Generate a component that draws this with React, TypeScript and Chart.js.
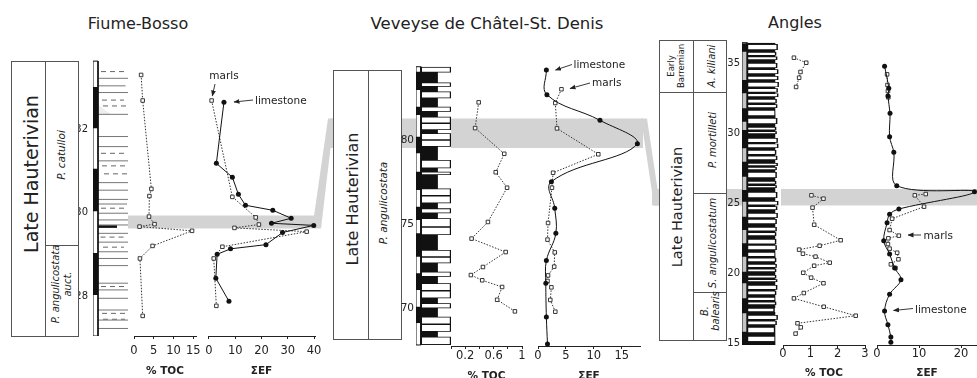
import React, { useEffect, useRef } from 'react';
import { Chart, registerables } from 'chart.js';

Chart.register(...registerables);

const FONT = "'DejaVu Sans', Verdana, sans-serif";
const INK = '#222';
const CH = 395;

// ================= Fiume-Bosso =================
const fbTocDepth = [33.29, 32.68, 30.57, 30.4, 29.91, 29.73, 29.67, 29.57, 29.21, 28.91, 27.54];
const fbTocValue = [1.8, 2.2, 4.4, 3.9, 3.8, 5.2, 1.4, 14.7, 4.7, 1.5, 2.2];
const fbMarlDepth = [32.68, 30.38, 29.89, 29.72, 29.64, 29.55, 29.19, 28.91, 27.78];
const fbMarlEF = [1.0, 8.9, 17.8, 19.0, 9.7, 37.2, 5.1, 1.8, 2.8];
const fbLimeDepth = [32.64, 31.18, 30.85, 30.44, 30.18, 30.06, 29.87, 29.75, 29.7, 29.53, 29.24, 29.14, 29.01, 28.44, 27.89];
const fbLimeEF = [5.7, 2.8, 8.9, 11.2, 13.9, 24.3, 31.3, 23.8, 39.9, 28.0, 21.7, 8.2, 3.1, 2.6, 7.6];
const fbColTop = 33.62;
const fbColBot = 27.06;
const fbStripTop = [33.0, 31.05, 29.04];
const fbStripBot = [32.02, 30.04, 28.04];
const fbLineDepth = [33.21, 33.03, 32.87, 32.35, 31.82, 31.58, 31.24, 30.72, 30.54, 30.32, 30.21, 29.99, 29.83, 29.71, 29.51, 29.3, 29.07, 28.91, 28.74, 28.32, 28.16, 27.96, 27.68, 27.44, 27.24];
const fbLineX0 = [0.2, 0, 0, 0, 0, 0, 0, 0, 0, 0, 0, 0, 0, 0, 0, 0, 0, 0, 0, 0, 0, 0, 0, 0, 0];
const fbLineX1 = [6, 5.5, 6, 6, 6.4, 6, 6.2, 6, 6, 6, 5.8, 6, 6, 6, 6.4, 6, 6, 6.4, 6, 6.5, 6.5, 6, 6, 6, 6];
const fbDashDepth = [33.37, 32.69, 32.55, 31.42, 31.12, 30.93, 30.11, 29.42, 29.18, 28.24, 27.6, 27.46];
const fbDashX0 = [0.6, 0.8, 1.0, 0.6, 0.8, 1.2, 0.6, 0.5, 1.0, 0.6, 0.8, 1.0];
const fbDashX1 = [5.6, 5.2, 5.6, 5.8, 5.4, 5.8, 5.5, 5.6, 5.2, 5.8, 5.6, 5.4];
const fbBlackDepth = [29.67];
const fbBlackX0 = [0];
const fbBlackX1 = [3.8];
const fbGreyTop = [32.33, 32.66];
const fbGreyBot = [32.05, 32.58];

// ================= Veveyse de Châtel-St. Denis =================
const vvTocDepth = [82.24, 80.71, 79.18, 78.08, 77.16, 75.12, 74.13, 73.33, 72.44, 71.96, 71.65, 71.25, 70.49, 69.8];
const vvTocValue = [0.39, 0.34, 0.75, 0.63, 0.79, 0.52, 0.29, 0.77, 0.45, 0.28, 0.44, 0.72, 0.65, 0.9];
const vvLimeDepth = [84.17, 82.7, 81.17, 79.78, 77.52, 75.93, 74.45, 72.82, 71.47, 69.46, 67.86];
const vvLimeEF = [1.5, 1.6, 11.1, 17.8, 2.4, 3.0, 3.2, 1.5, 1.4, 1.5, 1.7];
const vvMarlDepth = [83.02, 82.2, 80.69, 79.15, 78.05, 77.16, 75.06, 74.07, 73.31, 72.46, 71.94, 71.61, 71.23, 70.48, 69.78];
const vvMarlEF = [4.2, 3.1, 3.4, 10.8, 2.7, 2.5, 1.8, 1.7, 3.0, 2.9, 1.8, 1.7, 2.4, 2.2, 3.1];
const vvColTop = 84.36;
const vvColBot = 67.8;
const vvBedTop = [84.36, 83.42, 82.88, 81.98, 81.39, 81.0, 80.4, 80.0, 78.81, 78.11, 77.12, 76.68, 75.93, 75.34, 74.82, 73.45, 73.03, 72.16, 71.47, 71.02, 70.28, 69.48, 69.03, 68.29];
const vvBedBot = [84.01, 83.17, 82.48, 81.68, 81.0, 80.6, 80.0, 79.6, 78.32, 77.92, 76.68, 76.23, 75.64, 74.82, 74.35, 73.03, 72.66, 71.86, 71.02, 70.58, 69.98, 69.03, 68.59, 67.8];
const vvBedWidth = [6.2, 6.2, 6.2, 6.2, 6.2, 6.2, 6.2, 6.2, 6.2, 6.2, 6.2, 6.2, 6.2, 6.2, 6.2, 6.2, 6.2, 6.2, 6.2, 6.2, 6.2, 6.2, 6.2, 6.2];
const vvMarlWidth = 3.5;
const vvStripTop = [84.07, 81.98, 80.2, 78.11, 76.03, 74.45, 72.07, 70.08];
const vvStripBot = [82.98, 81.49, 79.21, 77.02, 75.24, 73.05, 71.07, 69.09];

// ================= Angles =================
const anTocDepth = [35.4, 35.04, 34.38, 33.97, 33.31, null, 25.57, 25.33, 24.69, 23.47, 22.36, 21.97, 21.69, 21.4, 21.19, 20.76, 20.54, 20.04, 19.69, 19.29, 18.59, 18.21, 17.61, 16.97, 16.43, 16.14, 15.69];
const anTocValue = [0.4, 0.85, 0.64, 0.59, 0.48, null, 1.04, 1.48, 1.08, 1.14, 2.11, 1.34, 0.59, 0.73, 1.19, 1.71, 1.14, 0.74, 1.03, 1.48, 0.76, 0.4, 1.49, 2.66, 0.53, 0.65, 0.46];
const anLimeDepth = [34.79, 33.21, 32.66, 31.43, 29.76, 28.64, 26.26, 25.83, 24.59, 24.21, 23.61, 22.33, 21.38, 20.38, 19.54, 18.5, 17.31, 16.33, 15.45, 15.07];
const anLimeEF = [1.8, 2.8, 2.6, 3.1, 3.0, 4.0, 4.7, 23.2, 5.2, 3.0, 2.4, 1.6, 3.0, 4.2, 5.7, 3.0, 1.8, 2.6, 3.3, 3.3];
const anMarlDepth = [34.21, 33.45, 33.02, 32.57, null, 25.66, 25.57, 24.76, 23.9, 23.09, 22.69, 22.5, 22.09, 21.76, 21.47, 21.0, 20.64, 20.38];
const anMarlEF = [2.4, 2.5, 2.6, 2.7, null, 11.6, 9.0, 11.2, 3.6, 3.0, 5.2, 2.7, 2.6, 3.0, 4.8, 5.1, 3.3, 4.4];
const anColTop = 36.47;
const anColBot = 14.88;
const anBedTop = [36.38, 35.81, 35.48, 35.02, 34.58, 34.09, 33.66, 33.22, 32.85, 32.45, 32.08, 31.66, 31.09, 30.45, 30.15, 29.66, 29.26, 28.81, 28.4, 27.88, 27.59, 27.24, 26.59, 26.29, 25.81, 25.16, 24.79, 24.31, 23.88, 23.31, 22.93, 22.45, 22.01, 21.52, 21.11, 20.66, 20.33, 19.88, 19.58, 19.16, 18.75, 18.31, 17.97, 17.52, 17.02, 16.61, 16.16, 15.52];
const anBedBot = [35.95, 35.55, 35.24, 34.66, 34.24, 33.81, 33.3, 32.92, 32.59, 32.15, 31.81, 31.24, 30.66, 30.22, 29.95, 29.33, 28.95, 28.47, 28.09, 27.66, 27.38, 26.81, 26.36, 26.09, 25.38, 24.86, 24.52, 23.95, 23.52, 23.0, 22.66, 22.08, 21.66, 21.18, 20.81, 20.4, 20.09, 19.65, 19.38, 18.82, 18.45, 18.04, 17.74, 17.24, 16.68, 16.31, 15.74, 15.09];
const anBedWidth = [5.9, 5.6, 5.8, 5.8, 6.0, 6.0, 6.1, 5.9, 6.0, 5.7, 5.8, 5.5, 5.8, 5.6, 5.7, 5.9, 6.0, 5.6, 5.8, 5.9, 5.7, 5.7, 5.6, 5.7, 5.8, 6.0, 5.8, 5.9, 5.7, 5.7, 5.6, 5.6, 5.7, 5.5, 5.6, 5.7, 5.6, 5.6, 5.8, 5.8, 5.6, 5.5, 5.6, 5.3, 5.9, 5.7, 5.4, 5.5];
const anMarlWidth = 5.4;
const anStripTop = [36.43, 33.81, 31.79, 30.24, 27.97, 25.95, 24.04, 22.14, 20.11, 18.21, 15.83];
const anStripBot = [35.83, 32.86, 30.83, 28.93, 26.9, 25.11, 23.09, 21.19, 19.29, 17.14, 14.88];

// ================= helpers =================
type Pt = { x: number | null; y: number | null };
const pts = (xs: (number | null)[], ys: (number | null)[]): Pt[] => xs.map((x, i) => ({ x, y: ys[i] }));

function hLines(d: number[], x0: number[], x1: number[]): Pt[] {
  const out: Pt[] = [];
  d.forEach((v, i) => { out.push({ x: x0[i], y: v }, { x: x1[i], y: v }, { x: null, y: null }); });
  return out;
}
function segFill(tops: number[], bots: number[], x0: number, x1: number): Pt[] {
  const out: Pt[] = [];
  tops.forEach((t, i) => { out.push({ x: x0, y: t }, { x: x1, y: t }, { x: x1, y: bots[i] }, { x: x0, y: bots[i] }); });
  return out;
}
function outline(x0: number, x1: number, top: number, bot: number): Pt[] {
  return [{ x: x0, y: top }, { x: x1, y: top }, { x: x1, y: bot }, { x: x0, y: bot }, { x: x0, y: top }];
}
function silhouette(top: number, bot: number, bt: number[], bb: number[], bw: number[], mw: number): Pt[] {
  const out: Pt[] = [];
  let cur = top;
  bt.forEach((t, i) => {
    if (t < cur) out.push({ x: mw, y: cur }, { x: mw, y: t });
    out.push({ x: bw[i], y: t }, { x: bw[i], y: bb[i] });
    cur = bb[i];
  });
  if (cur > bot) out.push({ x: mw, y: cur }, { x: mw, y: bot });
  return out;
}
function whiteBeds(bt: number[], bb: number[], bw: number[], base: number, inset: number, dx: number): Pt[] {
  const out: Pt[] = [];
  bt.forEach((t, i) => {
    out.push({ x: base, y: t - inset }, { x: bw[i] - dx, y: t - inset }, { x: bw[i] - dx, y: bb[i] + inset }, { x: base, y: bb[i] + inset });
  });
  return out;
}

const fillDs = (data: Pt[], color: string, base: number, order: number) => ({
  data, borderWidth: 0, borderColor: 'transparent', backgroundColor: color, fill: { value: base },
  pointRadius: 0, tension: 0, order, spanGaps: false,
});
const strokeDs = (data: Pt[], color: string, width: number, order: number, dash: number[] = []) => ({
  data, borderWidth: width, borderColor: color, borderDash: dash, fill: false, pointRadius: 0, tension: 0, order, spanGaps: false,
});
const dotted = (data: Pt[]) => ({
  data, borderColor: '#333', borderWidth: 1, borderDash: [1.5, 1.5], pointStyle: 'rect', pointRadius: 2.5,
  pointBackgroundColor: '#fff', pointBorderColor: '#222', pointBorderWidth: 0.9, tension: 0, fill: false, clip: false, spanGaps: false, order: 2,
});
const solid = (data: Pt[], tension: number) => ({
  data, borderColor: '#111', borderWidth: 1, pointStyle: 'circle', pointRadius: 2.5, pointBackgroundColor: '#111',
  pointBorderColor: '#111', pointBorderWidth: 0, tension, fill: false, clip: false, spanGaps: false, order: 1,
});

type XAxis = { step: number; title: string; tickPad: number; titleCenter: number; show?: (v: number) => boolean };
type YAxis = { step: number; width: number; pad: number; size: number };
type PlotSpec = {
  left: number; right: number; top: number; bottom: number;
  xMin: number; xMax: number; yMin: number; yMax: number;
  datasets: any[]; xAxis?: XAxis; yAxis?: YAxis; vertical?: boolean;
};

function ChartPlot({ p }: { p: PlotSpec }) {
  const ref = useRef<HTMLCanvasElement>(null);
  const padL = p.yAxis ? 0 : 22;
  const padR = p.yAxis ? 2 : 22;
  const yW = p.yAxis ? p.yAxis.width : 0;
  const cLeft = p.left - padL - yW;
  const cW = Math.round(p.right - p.left + padL + padR + yW);
  useEffect(() => {
    const canvas = ref.current;
    if (!canvas) return;
    const xa = p.xAxis;
    const ya = p.yAxis;
    const tickFont = { family: FONT, size: 11.5, lineHeight: 1 };
    const chart = new Chart(canvas, {
      type: 'line',
      data: { datasets: p.datasets },
      options: {
        animation: false,
        responsive: false,
        maintainAspectRatio: false,
        devicePixelRatio: 1,
        events: [],
        indexAxis: p.vertical ? 'y' : 'x',
        layout: { padding: { left: padL, right: padR, top: p.top, bottom: xa ? 0 : CH - p.bottom } },
        plugins: { legend: { display: false }, tooltip: { enabled: false } },
        scales: {
          x: xa
            ? {
                type: 'linear', position: 'bottom', min: p.xMin, max: p.xMax, display: true,
                afterFit: (s: any) => { s.height = CH - p.bottom; },
                grid: { display: true, drawOnChartArea: false, drawTicks: true, tickLength: 3, color: INK, lineWidth: 1 },
                border: { display: true, color: INK, width: 1 },
                ticks: {
                  stepSize: xa.step, includeBounds: false, padding: xa.tickPad, color: INK, font: tickFont,
                  autoSkip: false, maxRotation: 0,
                  callback: (v: any) => (xa.show && !xa.show(Number(v)) ? '' : String(Math.round(Number(v) * 10) / 10)),
                },
                title: {
                  display: true, text: xa.title, color: INK,
                  font: { family: FONT, size: 10.5, weight: 'bold', lineHeight: 1.2 },
                  padding: { top: 0, bottom: CH - xa.titleCenter - 6.3 },
                },
              }
            : { type: 'linear', min: p.xMin, max: p.xMax, display: false },
          y: ya
            ? {
                type: 'linear', position: 'left', min: p.yMin, max: p.yMax, display: true,
                afterFit: (s: any) => { s.width = ya.width; },
                grid: { display: false, drawTicks: false },
                border: { display: false },
                ticks: { stepSize: ya.step, includeBounds: false, padding: ya.pad, color: INK, font: { family: FONT, size: ya.size }, autoSkip: false },
              }
            : { type: 'linear', min: p.yMin, max: p.yMax, display: false },
        },
      } as any,
    });
    return () => chart.destroy();
  }, []);
  return <canvas ref={ref} width={cW} height={CH} style={{ position: 'absolute', left: cLeft, top: 0, width: cW, height: CH, zIndex: 3 }} />;
}

function Box({ x, y, w, h }: { x: number; y: number; w: number; h: number }) {
  return <div style={{ position: 'absolute', left: x, top: y, width: w, height: h, border: '1px solid #555', background: '#fff', boxSizing: 'border-box', zIndex: 2 }} />;
}
function VLine({ x, y1, y2 }: { x: number; y1: number; y2: number }) {
  return <div style={{ position: 'absolute', left: x, top: y1, width: 0, height: y2 - y1, borderLeft: '1px solid #555', zIndex: 2 }} />;
}
function HLine({ y, x1, x2 }: { y: number; x1: number; x2: number }) {
  return <div style={{ position: 'absolute', left: x1, top: y, width: x2 - x1, height: 0, borderTop: '1px solid #555', zIndex: 2 }} />;
}
function VText({ cx, cy, text, size, italic, lh }: { cx: number; cy: number; text: string; size: number; italic?: boolean; lh?: number }) {
  return (
    <div style={{
      position: 'absolute', left: cx, top: cy, transform: 'translate(-50%, -50%) rotate(-90deg)', whiteSpace: 'pre',
      textAlign: 'center', fontSize: size, fontStyle: italic ? 'italic' : 'normal', lineHeight: `${lh ?? size * 1.1}px`,
      fontFamily: FONT, color: INK, zIndex: 2,
    }}>{text}</div>
  );
}
function Title({ cx, cy, text, size }: { cx: number; cy: number; text: string; size: number }) {
  return (
    <div style={{ position: 'absolute', left: cx, top: cy, transform: 'translate(-50%, -50%)', whiteSpace: 'nowrap', fontSize: size, lineHeight: 1, fontFamily: FONT, color: INK }}>{text}</div>
  );
}

export default function App() {
  useEffect(() => { document.body.style.margin = '0'; }, []);

  const fbArea = { top: 55, bottom: 336, yMin: 27.06, yMax: 33.766 };
  const vvArea = { top: 57, bottom: 346, yMin: 67.738, yMax: 84.94 };
  const anArea = { top: 38, bottom: 345, yMin: 14.879, yMax: 36.807 };

  const plots: PlotSpec[] = [
    {
      left: 93, right: 128, ...fbArea, xMin: -1, xMax: 6, vertical: true,
      yAxis: { step: 2, width: 14, pad: 5, size: 10 },
      datasets: [
        strokeDs(outline(-1, 0, fbColTop, fbColBot), '#111', 1, 1),
        fillDs(segFill(fbStripTop, fbStripBot, -1, 0), '#111', -1, 2),
        strokeDs(hLines(fbBlackDepth, fbBlackX0, fbBlackX1), '#111', 2.5, 3),
        strokeDs(hLines(fbLineDepth, fbLineX0, fbLineX1), '#777', 1, 4),
        strokeDs(hLines(fbDashDepth, fbDashX0, fbDashX1), '#666', 1, 5, [5, 4]),
        fillDs(segFill(fbGreyTop, fbGreyBot, 0, 6), '#eeeeee', 0, 6),
      ],
    },
    {
      left: 134, right: 196, ...fbArea, xMin: 0, xMax: 15.7,
      xAxis: { step: 5, title: '% TOC', tickPad: 6, titleCenter: 371 },
      datasets: [dotted(pts(fbTocValue, fbTocDepth))],
    },
    {
      left: 208.3, right: 315, ...fbArea, xMin: -0.38, xMax: 40.38,
      xAxis: { step: 10, title: 'ΣEF', tickPad: 6, titleCenter: 371 },
      datasets: [solid(pts(fbLimeEF, fbLimeDepth), 0), dotted(pts(fbMarlEF, fbMarlDepth))],
    },
    {
      left: 416, right: 451.7, ...vvArea, xMin: -1, xMax: 6.4, vertical: true,
      yAxis: { step: 5, width: 16, pad: 2, size: 10.5 },
      datasets: [
        strokeDs(outline(-1, 0, vvColTop, vvColBot), '#111', 1, 1),
        fillDs(segFill(vvStripTop, vvStripBot, -1, 0), '#111', -1, 2),
        fillDs(whiteBeds(vvBedTop, vvBedBot, vvBedWidth, 0.22, 0.045, 0.25), '#fff', 0.22, 3),
        fillDs(silhouette(vvColTop, vvColBot, vvBedTop, vvBedBot, vvBedWidth, vvMarlWidth), '#111', 0, 4),
      ],
    },
    {
      left: 451.3, right: 522.3, ...vvArea, xMin: 0, xMax: 1,
      xAxis: { step: 0.2, title: '% TOC', tickPad: 1, titleCenter: 376, show: (v) => [0.2, 0.6, 1].some((s) => Math.abs(s - v) < 1e-6) },
      datasets: [dotted(pts(vvTocValue, vvTocDepth))],
    },
    {
      left: 537.7, right: 640, ...vvArea, xMin: 0, xMax: 18.27,
      xAxis: { step: 5, title: 'ΣEF', tickPad: 1, titleCenter: 376 },
      datasets: [solid(pts(vvLimeEF, vvLimeDepth), 0.4), dotted(pts(vvMarlEF, vvMarlDepth))],
    },
    {
      left: 742, right: 781, ...anArea, xMin: -1, xMax: 6.5, vertical: true,
      yAxis: { step: 5, width: 16, pad: 2, size: 10 },
      datasets: [
        strokeDs(outline(-1, 0, anColTop, anColBot), '#111', 1, 1),
        fillDs(segFill(anStripTop, anStripBot, -1, 0), '#111', -1, 2),
        fillDs(segFill([anColTop], [anColBot], -1, 0), '#c4c4c4', -1, 3),
        fillDs(whiteBeds(anBedTop, anBedBot, anBedWidth, 0.2, 0.05, 0.28), '#fff', 0.2, 4),
        fillDs(silhouette(anColTop, anColBot, anBedTop, anBedBot, anBedWidth, anMarlWidth), '#111', 0, 5),
      ],
    },
    {
      left: 782.5, right: 864.4, ...anArea, xMin: 0, xMax: 3,
      xAxis: { step: 1, title: '% TOC', tickPad: 0, titleCenter: 373 },
      datasets: [dotted(pts(anTocValue, anTocDepth))],
    },
    {
      left: 877.3, right: 977, ...anArea, xMin: 0, xMax: 23.8,
      xAxis: { step: 10, title: 'ΣEF', tickPad: 0, titleCenter: 373 },
      datasets: [solid(pts(anLimeEF, anLimeDepth), 0.35), dotted(pts(anMarlEF, anMarlDepth))],
    },
  ];

  const band = '#d3d3d3';
  return (
    <div style={{ position: 'absolute', left: 0, top: 0, width: 977, height: 378, overflow: 'hidden', background: '#fff', fontFamily: FONT }}>
      <svg width={977} height={378} style={{ position: 'absolute', left: 0, top: 0, zIndex: 1 }}>
        <polygon points="128,215.5 316,215.5 321,228.5 128,228.5" fill={band} />
        <polygon points="314,216 328,118.5 334,118.5 321,228.5" fill={band} />
        <rect x={330} y={118.5} width={313} height={29.5} fill={band} />
        <polygon points="641,118.5 647,118.5 660,205.5 654,205.5" fill={band} />
        <rect x={652} y={189} width={325} height={16.5} fill={band} />
      </svg>

      <Title cx={138} cy={24} text="Fiume-Bosso" size={16} />
      <Title cx={487} cy={24} text="Veveyse de Châtel-St. Denis" size={16.5} />
      <Title cx={795} cy={23} text="Angles" size={16} />

      <Box x={11} y={61} w={68} h={276} />
      <VLine x={45} y1={61} y2={337} />
      <HLine y={245} x1={45} x2={79} />
      <VText cx={31} cy={174} text="Late Hauterivian" size={19} />
      <VText cx={62} cy={155} text="P. catulloi" size={10.5} italic />
      <VText cx={61} cy={284} text={'P. angulicostata\nauct.'} size={10} italic lh={11.5} />

      <Box x={333} y={70} w={69} h={270} />
      <VLine x={368} y1={70} y2={340} />
      <VText cx={353} cy={199} text="Late Hauterivian" size={16} />
      <VText cx={384} cy={203} text="P. angulicostata" size={10.5} italic />
      <div style={{ position: 'absolute', left: 416, top: 67, width: 35, height: 278, background: '#fff', zIndex: 2 }} />

      <Box x={659} y={40} w={68} h={301} />
      <VLine x={693} y1={40} y2={341} />
      <HLine y={92} x1={659} x2={727} />
      <HLine y={193} x1={693} x2={727} />
      <HLine y={292} x1={693} x2={727} />
      <VText cx={676} cy={66} text={'Early\nBarremian'} size={8.5} lh={10} />
      <VText cx={711} cy={66} text="A. kiliani" size={10} italic />
      <VText cx={678} cy={207} text="Late Hauterivian" size={14.5} />
      <VText cx={712} cy={140} text="P. mortilleti" size={10} italic />
      <VText cx={712} cy={243} text="S. angulicostatum" size={10} italic />
      <VText cx={710} cy={311} text={'B.\nbalearis'} size={10} italic lh={11} />
      <div style={{ position: 'absolute', left: 742, top: 42, width: 39, height: 303, background: '#fff', zIndex: 2 }} />

      {plots.map((p, i) => <ChartPlot key={i} p={p} />)}

      <svg width={977} height={378} style={{ position: 'absolute', left: 0, top: 0, zIndex: 4 }}>
        <defs>
          <marker id="ah" markerWidth={6} markerHeight={6} refX={5.5} refY={3} orient="auto" markerUnits="userSpaceOnUse">
            <path d="M0,0.6 L6,3 L0,5.4 z" fill="#222" />
          </marker>
        </defs>
        <g fontFamily={FONT} fontSize={10.5} fill={INK}>
          <text x={224} y={75} textAnchor="middle" dominantBaseline="central">marls</text>
          <text x={255} y={100} dominantBaseline="central">limestone</text>
          <text x={573.5} y={63.5} dominantBaseline="central">limestone</text>
          <text x={592} y={82} dominantBaseline="central">marls</text>
          <text x={923.5} y={235} dominantBaseline="central">marls</text>
          <text x={915} y={308.5} dominantBaseline="central">limestone</text>
        </g>
        <g stroke="#222" strokeWidth={0.9} markerEnd="url(#ah)">
          <line x1={215} y1={84} x2={212.3} y2={96} />
          <line x1={253} y1={100} x2={234} y2={102} />
          <line x1={572} y1={64.5} x2={555.5} y2={70} />
          <line x1={590} y1={83} x2={570} y2={88.5} />
          <line x1={921} y1={235} x2={908} y2={235} />
          <line x1={913} y1={308.5} x2={893.5} y2={310.5} />
        </g>
      </svg>
    </div>
  );
}
